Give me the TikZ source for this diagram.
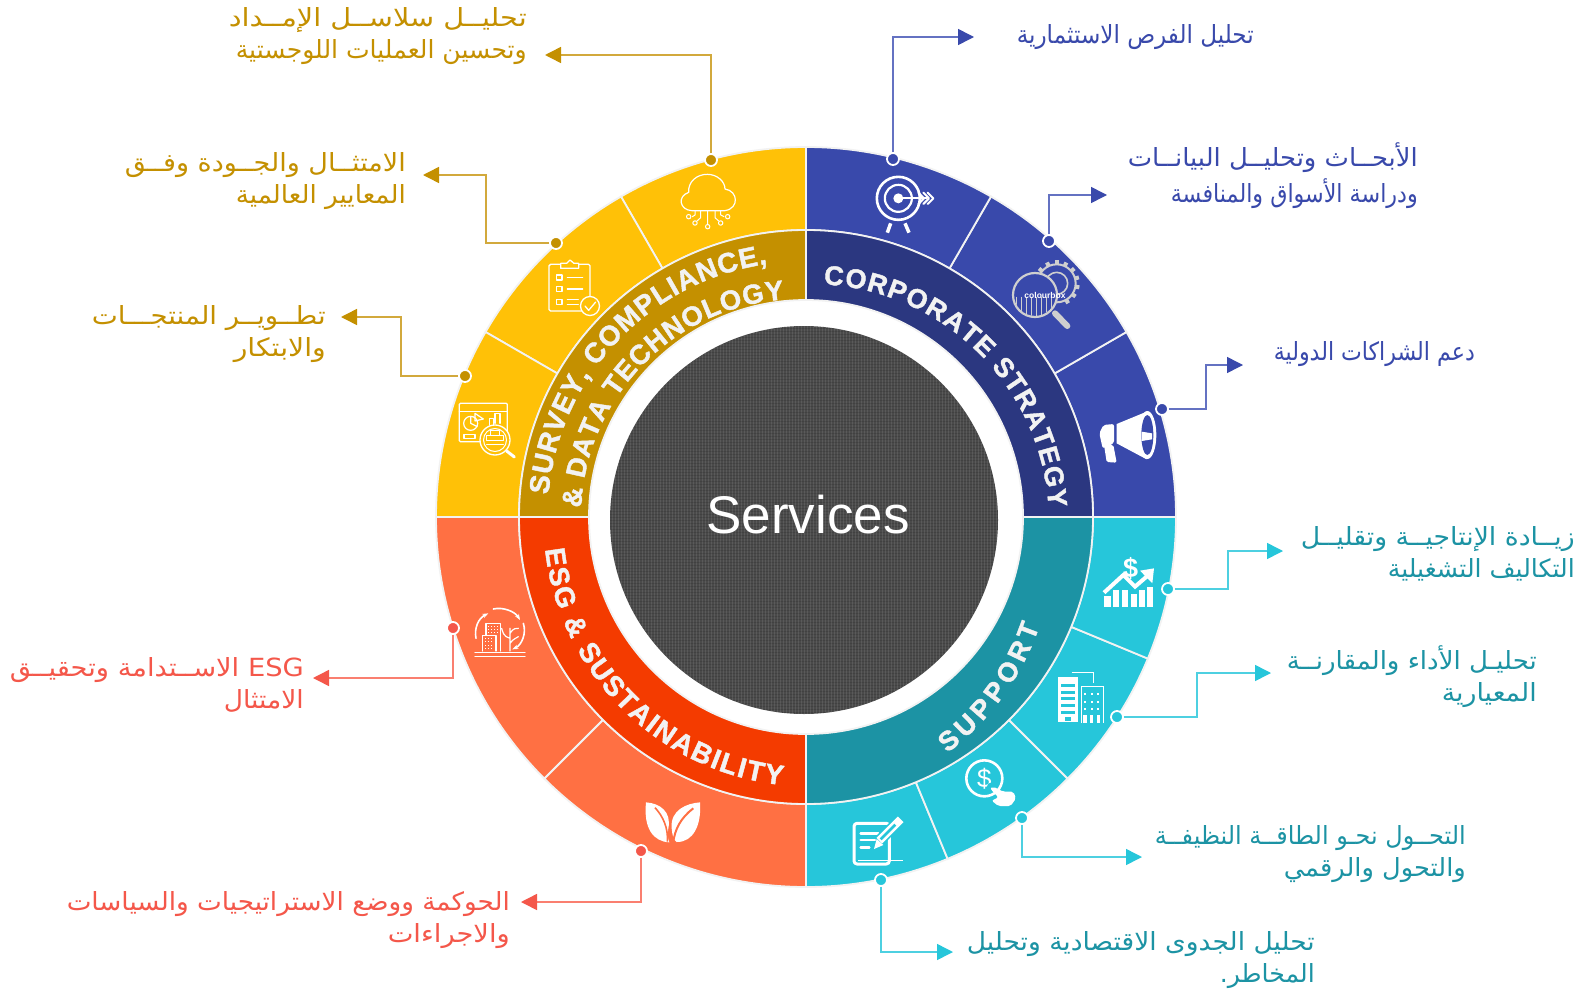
\documentclass[tikz,border=0pt]{standalone}
\usepackage{fontspec}
\usepackage{graphicx}
\usetikzlibrary{arrows.meta,decorations.text,calc}
\TeXXeTstate=1
\setmainfont{Liberation Sans}
\newfontfamily\arabicfont[Script=Arabic]{DejaVu Sans}
\newfontfamily\ringfam[UprightFont=* Bold,FakeBold=1.5]{Liberation Sans}
\definecolor{blueA}{HTML}{3949AB}\definecolor{blueB}{HTML}{2B3780}\definecolor{blueL}{HTML}{6472C2}
\definecolor{cyanA}{HTML}{26C6DA}\definecolor{cyanB}{HTML}{1C93A4}\definecolor{cyanL}{HTML}{4DD0E1}
\definecolor{goldA}{HTML}{FFC107}\definecolor{goldB}{HTML}{C49000}\definecolor{goldL}{HTML}{D2A93C}
\definecolor{oranA}{HTML}{FF7043}\definecolor{oranB}{HTML}{F43B00}\definecolor{oranL}{HTML}{FA7F70}\definecolor{oranT}{HTML}{F4574A}
\definecolor{ringline}{HTML}{F2F2F2}\definecolor{coreg}{HTML}{4A4A4A}\definecolor{iconG}{HTML}{CFCFCF}
\newcommand\ringfont[1]{\ringfam\fontsize{#1}{#1}\selectfont\color{ringline}}
\newcommand\arline[2]{\resizebox{#1pt}{\height}{#2}}
\newcommand\sect[5]{\path[fill=#5,draw=ringline,line width=1.8pt] (#3:#1pt) arc[start angle=#3,end angle=#4,radius=#1pt] -- (#4:#2pt) arc[start angle=#4,end angle=#3,radius=#2pt] -- cycle;}
% text, radius, start, end, size, centre
\newcommand\ringtext[6]{\begin{scope}[shift={(#6)}]{\ringfont{#5}\path[decorate,decoration={text along path,text={|\ringfont{#5}|#1},text align={fit to path}}] (#3:#2pt) arc[start angle=#3,end angle=#4,radius=#2pt];}\end{scope}}
\tikzset{
  x=1pt,y=1pt,
  crop/.style 2 args={shift={(#1,-#2)},x=0.33333pt,y=-0.33333pt},
  lab/.style={anchor=east,align=right,inner sep=0pt,font=\arabicfont\fontsize{25}{32}\selectfont},
  dotb/.style={circle,inner sep=0pt,minimum size=12pt,draw=white,line width=1.8pt,fill=#1},
  conn/.style={line width=1.5pt,#1,line join=miter},
  tip/.style={-{Triangle[length=16pt,width=16pt,color=#1]}},
  ico/.style={draw=white,line width=#1,line cap=round,line join=round},
}
\begin{document}
\begin{tikzpicture}
\useasboundingbox (0,0) rectangle (1587,-990);
\fill[white] (0,0) rectangle (1587,-990);
\begin{scope}[shift={(806,-517)}]
  % outer segments
  \sect{370}{287}{0}{30}{blueA}\sect{370}{287}{30}{60}{blueA}\sect{370}{287}{60}{90}{blueA}
  \sect{370}{287}{270}{292.5}{cyanA}\sect{370}{287}{292.5}{315}{cyanA}\sect{370}{287}{315}{337.5}{cyanA}\sect{370}{287}{337.5}{360}{cyanA}
  \sect{370}{287}{180}{225}{oranA}\sect{370}{287}{225}{270}{oranA}
  \sect{370}{287}{90}{120}{goldA}\sect{370}{287}{120}{150}{goldA}\sect{370}{287}{150}{180}{goldA}
  % inner quadrants
  \sect{287}{217}{0}{90}{blueB}
  \sect{287}{217}{270}{360}{cyanB}
  \sect{287}{217}{180}{270}{oranB}
  \sect{287}{217}{90}{180}{goldB}
  % core
  \begin{scope}[shift={(-2,-3)}]
  \fill[coreg] (0,0) circle[radius=194pt];
  \begin{scope}
    \clip (0,0) circle[radius=194pt];
    \foreach \k in {-195,-192,...,195}{
      \draw[white,opacity=.09,line width=.9pt] (\k,-195) -- (\k,195);
      \draw[black,opacity=.12,line width=.9pt] (-195,\k) -- (195,\k);
    }
  \end{scope}
  \end{scope}
  % ring titles
  \ringtext{CORPORATE STRATEGY}{238}{87}{3.5}{27}{5,-5}
  \ringtext{SUPPORT}{268}{-53}{-19}{27}{-20,-22}
  \ringtext{ESG {\&} SUSTAINABILITY}{266.5}{186.3}{264}{28}{4,-3}
  \ringtext{SURVEY, COMPLIANCE,}{255.5}{175}{98}{28}{-3,0}
  \ringtext{{\&} DATA TECHNOLOGY}{218}{177.6}{93.9}{27.5}{-7,0}
\end{scope}
\node[text=white,font=\fontsize{53}{56}\selectfont,inner sep=0pt] (core) at (808,-515) {Services};

% connector ends
\coordinate (a1) at (974,-37);
\coordinate (a2) at (1107,-195);
\coordinate (m3) at (1206,-409);\coordinate (a3) at (1243,-365);
\coordinate (m4) at (1228,-589);\coordinate (a4) at (1283,-551);
\coordinate (m5) at (1197,-717);\coordinate (a5) at (1271,-673);
\coordinate (a6) at (1142,-857);
\coordinate (a7) at (953,-952);
\coordinate (a8) at (545,-55);
\coordinate (m9) at (486,-243);\coordinate (a9) at (423,-175);
\coordinate (m10) at (401,-376);\coordinate (a10) at (341,-317);
\coordinate (a11) at (313,-678);
\coordinate (a12) at (521,-902);
% anchor dots
\node[dotb=blueA] (d1) at (893,-159) {};
\node[dotb=blueA] (d2) at (1049,-241) {};
\node[dotb=blueA] (d3) at (1162,-409) {};
\node[dotb=cyanA] (d4) at (1168,-589) {};
\node[dotb=cyanA] (d5) at (1117,-717) {};
\node[dotb=cyanA] (d6) at (1022,-818) {};
\node[dotb=cyanA] (d7) at (881,-880) {};
\node[dotb=goldB] (d8) at (711,-160) {};
\node[dotb=goldB] (d9) at (556,-243) {};
\node[dotb=goldB] (d10) at (465,-376) {};
\node[dotb=oranT] (d11) at (453,-628) {};
\node[dotb=oranT] (d12) at (641,-851) {};
% connectors
\draw[conn=blueL,tip=blueA] (d1) |- (a1);
\draw[conn=blueL,tip=blueA] (d2) |- (a2);
\draw[conn=blueL,tip=blueA] (d3) -- (m3) |- (a3);
\draw[conn=cyanL,tip=cyanA] (d4) -- (m4) |- (a4);
\draw[conn=cyanL,tip=cyanA] (d5) -- (m5) |- (a5);
\draw[conn=cyanL,tip=cyanA] (d6) |- (a6);
\draw[conn=cyanL,tip=cyanA] (d7) |- (a7);
\draw[conn=goldL,tip=goldB] (d8) |- (a8);
\draw[conn=goldL,tip=goldB] (d9) -- (m9) |- (a9);
\draw[conn=goldL,tip=goldB] (d10) -- (m10) |- (a10);
\draw[conn=oranL,tip=oranT] (d11) |- (a11);
\draw[conn=oranL,tip=oranT] (d12) |- (a12);

% labels
\node[lab,text=blueA] (t1) at (1254,-37) {\arline{237}{\beginR تحليل الفرص الاستثمارية\endR}};
\node[lab,text=blueA] (t2) at (1418,-176) {\arline{290}{\beginR الأبحــاث وتحليــل البيانــات\endR}\\[4pt]\arline{247}{\beginR ودراسة الأسواق والمنافسة\endR}};
\node[lab,text=blueA] (t3) at (1475,-354) {\arline{201}{\beginR دعم الشراكات الدولية\endR}};
\node[lab,text=cyanB] (t4) at (1575,-554) {\arline{274}{\beginR زيــادة الإنتاجيــة وتقليــل\endR}\\\arline{187}{\beginR التكاليف التشغيلية\endR}};
\node[lab,text=cyanB] (t5) at (1537,-677) {\arline{250}{\beginR تحليـل الأداء والمقارنــة\endR}\\\arline{95}{\beginR المعيارية\endR}};
\node[lab,text=cyanB] (t6) at (1466,-854) {\arline{311}{\beginR التحــول نحـو الطاقــة النظيفــة\endR}\\\arline{182}{\beginR والتحول والرقمي\endR}};
\node[lab,text=cyanB] (t7) at (1315,-960) {\arline{348}{\beginR تحليل الجدوى الاقتصادية وتحليل\endR}\\\arline{95}{\beginR المخاطر.\endR}};
\node[lab,text=goldB] (t8) at (527,-36) {\arline{298}{\beginR تحليــل سلاســل الإمــداد\endR}\\\arline{291}{\beginR وتحسين العمليات اللوجستية\endR}};
\node[lab,text=goldB] (t9) at (406,-181) {\arline{281}{\beginR الامتثــال والجــودة وفــق\endR}\\\arline{170}{\beginR المعايير العالمية\endR}};
\node[lab,text=goldB] (t10) at (326,-334) {\arline{234}{\beginR تطــويــر المنتجـــات\endR}\\\arline{92}{\beginR والابتكار\endR}};
\node[lab,text=oranT] (t11) at (304,-685) {\arline{294}{\beginR\beginL ESG\endL{} الاســتدامة وتحقيــق\endR}\\\arline{80}{\beginR الامتثال\endR}};
\node[lab,text=oranT] (t12) at (510,-920) {\arline{443}{\beginR الحوكمة ووضع الاستراتيجيات والسياسات\endR}\\\arline{122}{\beginR والاجراءات\endR}};

% ---- icons ----
% target + magnifier
\begin{scope}[crop={870}{165}]
  \draw[ico=2.6pt] (85,100) circle[radius=21.5pt];
  \draw[ico=2.2pt] (85,100) circle[radius=13.5pt];
  \fill[white] (85,100) circle[radius=5pt];
  \draw[ico=2pt] (85,100) -- (170,100);
  \draw[ico=2pt] (145,83) -- (162,100) -- (145,117);
  \draw[ico=2pt] (160,83) -- (177,100) -- (160,117);
  \draw[ico=2pt] (173,83) -- (190,100) -- (173,117);
  \draw[ico=3.5pt,line cap=butt] (62,175) -- (52,203);
  \draw[ico=3.5pt,line cap=butt] (105,175) -- (117,203);
  % gear
  \coordinate (gc) at (560,355);
  \draw[iconG,line width=2pt] (gc) circle[radius=19pt];
  \foreach \a in {-60,-35,...,190}{\draw[iconG,line width=4pt] ($(gc)+(\a:19pt)$) -- ($(gc)+(\a:23pt)$);}
  \draw[iconG,line width=1.6pt] (gc) circle[radius=11pt];
  \fill[blueA] (495,390) circle[radius=22pt];
  \begin{scope}
    \clip (495,390) circle[radius=21pt];
    \foreach \k in {440,455,...,545}{\draw[iconG,line width=1.5pt] (\k,395) -- (\k,460);}
  \end{scope}
  \draw[iconG,line width=2.2pt] (495,390) circle[radius=22pt];
  \draw[iconG,line width=6pt,line cap=round] (555,445) -- (592,483);
  \node[text=white,inner sep=0pt,font=\bfseries\fontsize{8.5}{9}\selectfont] (wm) at (525,392) {colourbox};
\end{scope}
% megaphone + chart
\begin{scope}[crop={1090}{400}]
  \fill[white] (170,35) -- (80,72) -- (80,130) -- (170,178) -- cycle;
  \fill[white] (172,105) ellipse[x radius=9pt,y radius=24pt];
  \fill[blueA] (172,105) ellipse[x radius=6pt,y radius=20pt];
  \fill[white] (155,95) -- (186,100) -- (186,118) -- (155,123) -- cycle;
  \fill[white,rounded corners=2pt] (72,72) -- (40,75) -- (28,100) -- (38,145) -- (72,130) -- cycle;
  \fill[white,rounded corners=1.5pt] (42,135) -- (50,186) -- (80,188) -- (70,135) -- cycle;
  % chart
  \foreach \a/\b/\c in {42/62/588,68/88/570,95/115/570,122/140/583,147/165/570,172/190/560}{
    \fill[white] (\a,622) rectangle (\b,\c);}
  \draw[cyanA,line width=6pt] (42,580) -- (100,527) -- (135,562) -- (172,530);
  \draw[white,line width=4pt,line join=miter] (42,578) -- (100,525) -- (135,560) -- (172,528);
  \fill[white] (192,505) -- (150,512) -- (187,550) -- cycle;
  \node[text=white,inner sep=0pt,font=\bfseries\fontsize{27}{28}\selectfont] (usd) at (122,505) {\$};
\end{scope}
% buildings, dollar, notepad
\begin{scope}[crop={850}{660}]
  \fill[white] (625,52) rectangle (683,187);
  \foreach \k in {72,92,112,132,152}{\fill[cyanA] (633,\k) rectangle (676,\k+9);}
  \fill[cyanA] (645,170) rectangle (662,182);
  \draw[white,line width=1pt] (695,190) -- (695,80) -- (760,80) -- (760,190);
  \draw[white,line width=1.4pt] (665,38) -- (730,38) -- (730,70);
  \foreach \i in {705,725,745}{\foreach \j in {102,125,147}{\fill[white] (\i-3,\j-3) rectangle (\i+3,\j+3);}
    \fill[white] (\i-5,165) rectangle (\i+5,190);}
  % dollar hand
  \draw[ico=2.6pt] (403,355) circle[radius=18pt];
  \node[text=white,inner sep=0pt,font=\fontsize{26}{27}\selectfont] (usd2) at (403,355) {\$};
  \fill[cyanA] (425,382) circle[radius=5pt];
  \fill[white,rounded corners=2pt] (425,422) -- (445,412) -- (420,385) -- (430,380) -- (460,395) -- (490,395) -- (498,415) -- (482,438) -- (445,438) -- cycle;
  % notepad
  \draw[ico=3pt,rounded corners=3pt] (12,490) rectangle (118,612);
  \draw[ico=2.6pt] (32,520) -- (85,520) (32,540) -- (75,540) (32,562) -- (58,562);
  \draw[cyanA,line width=11pt] (85,545) -- (152,478);
  \draw[white,line width=8pt,line cap=butt] (88,542) -- (152,478);
  \draw[cyanA,line width=2.8pt] (92,538) -- (136,494);
  \fill[white] (72,567) -- (80,537) -- (100,555) -- cycle;
  \draw[white,line width=.4pt] (25,600) -- (160,600);
\end{scope}
% cloud, clipboard, dashboard
\begin{scope}[crop={450}{165}]
  \draw[ico=1.2pt] (725,137) .. controls (690,135) and (680,95) .. (716,82) .. controls (714,50) and (740,28) .. (772,28) .. controls (802,28) and (825,50) .. (825,72) .. controls (865,78) and (868,130) .. (825,137) -- cycle;
  \draw[ico=1pt] (773,137) -- (773,178) (752,137) -- (752,158) -- (741,168) (795,137) -- (795,158) -- (806,168) (735,137) -- (735,150) -- (727,155) (812,137) -- (812,150) -- (822,155);
  \foreach \p/\q in {773/185,735/174,812/174,716/155,833/155}{\draw[ico=1pt] (\p,\q) circle[radius=2.2pt];}
  % clipboard
  \draw[ico=1.3pt,rounded corners=1.5pt] (297,298) rectangle (420,438);
  \draw[ico=1.3pt,fill=goldA] (332,310) -- (332,295) -- (350,295) -- (360,285) -- (372,295) -- (386,295) -- (386,310) -- cycle;
  \foreach \k in {330,365,403}{\draw[ico=1.2pt] (320,\k) rectangle (336,\k+15);}
  \draw[ico=1.2pt] (352,338) -- (398,338) (352,372) -- (398,372) (352,403) -- (385,403) (352,418) -- (385,418);
  \draw[ico=1.3pt,fill=goldA] (420,423) circle[radius=9.5pt];
  \draw[ico=1.3pt] (405,423) -- (416,436) -- (437,411);
  % dashboard
  \draw[ico=1.3pt,rounded corners=1pt] (28,715) rectangle (172,830);
  \draw[ico=1.2pt] (28,740) -- (172,740);
  \draw[ico=1.2pt] (62,775) circle[radius=7pt] (62,775) -- (62,754) (62,775) -- (82,785);
  \draw[ico=1.2pt] (75,745) -- (100,762) -- (75,768) -- cycle;
  \draw[ico=1.2pt] (118,780) -- (118,760) -- (130,760) -- (130,780) (135,775) -- (135,745) -- (150,745) -- (150,775);
  \draw[ico=1.2pt] (42,808) rectangle (75,820);
  \draw[ico=1.3pt,fill=goldA] (135,825) circle[radius=15pt];
  \draw[ico=1pt] (135,825) circle[radius=11.5pt];
  \draw[ico=1pt] (110,810) rectangle (160,825);
  \draw[ico=1pt] (122,810) -- (122,795) -- (148,795) -- (148,810);
  \draw[ico=1pt] (110,838) -- (160,838);
  \draw[ico=3pt] (170,858) -- (193,876);
\end{scope}
% city + leaves
\begin{scope}[crop={460}{595}]
  \draw[ico=1.2pt] (45,172) -- (195,172) (45,184) -- (195,184);
  \draw[ico=1.2pt] (78,122) -- (78,85) -- (122,85) -- (122,168);
  \draw[ico=1.2pt,fill=oranA] (68,168) -- (68,122) -- (108,122) -- (108,168);
  \foreach \i in {84,93,102,111}{\foreach \j in {93,102,111}{\fill[white] (\i-1,\j-1) rectangle (\i+1,\j+1);}}
  \foreach \i in {76,85,94}{\foreach \j in {130,140,150,160}{\fill[white] (\i-1,\j-1) rectangle (\i+1,\j+1);}}
  \draw[ico=1.2pt] (150,168) -- (150,100) (150,130) .. controls (130,125) and (128,110) .. (125,100) (150,115) .. controls (160,98) and (170,100) .. (175,100) (150,145) .. controls (160,130) and (170,130) .. (175,125);
  \draw[ico=1.6pt,-{Stealth[length=6pt]}] (100,42) .. controls (130,35) and (165,50) .. (180,75);
  \draw[ico=1.6pt,-{Stealth[length=6pt]}] (48,130) .. controls (42,100) and (55,70) .. (85,55);
  \draw[ico=1.6pt,-{Stealth[length=6pt]}] (190,85) .. controls (200,115) and (185,150) .. (157,163);
  % leaves
  \fill[white] (558,622) .. controls (600,625) and (635,650) .. (625,700) .. controls (620,720) and (625,735) .. (628,742) .. controls (580,740) and (550,700) .. (558,622) -- cycle;
  \fill[white] (720,622) .. controls (680,625) and (630,645) .. (635,700) .. controls (637,720) and (640,735) .. (650,741) .. controls (700,742) and (725,690) .. (720,622) -- cycle;
  \draw[oranA,line width=1.6pt] (585,638) .. controls (610,665) and (625,700) .. (622,740);
  \draw[oranA,line width=2pt] (700,640) .. controls (660,670) and (645,705) .. (640,740);
\end{scope}
\end{tikzpicture}
\end{document}
